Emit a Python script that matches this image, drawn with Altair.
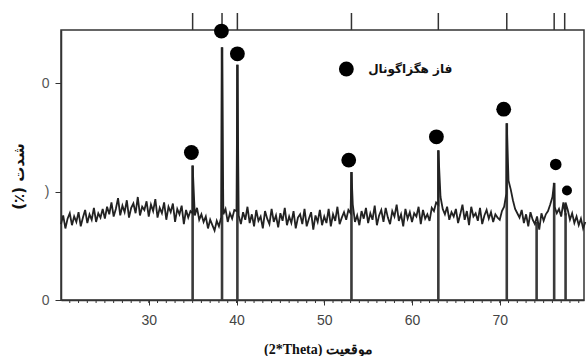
import altair as alt
import pandas as pd

# ---- data ----
# background trace, sampled every 0.25 deg from 20.00
trace_start = 20.0
trace_step = 0.25
trace_values = [
    0.70,0.78,0.66,0.75,0.80,0.69,0.77,0.72,0.81,0.68,0.76,0.83,0.71,0.79,0.74,0.85,0.72,0.80,0.76,0.84,
    0.75,0.86,0.79,0.90,0.77,0.84,0.94,0.78,0.87,0.81,0.92,0.76,0.85,0.89,0.80,0.95,0.78,0.86,0.83,0.91,
    0.77,0.88,0.82,0.93,0.76,0.85,0.80,0.90,0.74,0.86,0.81,0.89,0.72,0.84,0.79,0.87,0.70,0.83,0.76,0.82,
    0.80,0.78,0.85,0.74,0.79,0.72,0.77,0.66,0.74,0.69,0.64,0.73,0.68,0.76,0.79,0.84,0.72,0.80,0.75,0.83,
    0.82,0.78,0.70,0.81,0.74,0.86,0.71,0.79,0.68,0.83,0.73,0.77,0.66,0.82,0.75,0.70,0.84,0.72,0.78,0.67,
    0.80,0.73,0.85,0.69,0.77,0.71,0.82,0.66,0.76,0.79,0.70,0.84,0.68,0.75,0.81,0.65,0.78,0.72,0.83,0.69,
    0.77,0.71,0.84,0.68,0.79,0.73,0.86,0.70,0.76,0.81,0.74,0.83,0.80,0.88,0.72,0.78,0.69,0.82,0.75,0.85,
    0.71,0.80,0.74,0.87,0.69,0.78,0.83,0.72,0.85,0.76,0.70,0.82,0.77,0.88,0.73,0.79,0.68,0.84,0.75,0.81,
    0.72,0.80,0.77,0.86,0.70,0.83,0.75,0.79,0.73,0.85,0.82,0.90,0.88,0.95,0.84,0.79,0.86,0.74,0.81,0.77,
    0.84,0.71,0.79,0.88,0.74,0.82,0.69,0.86,0.77,0.80,0.73,0.85,0.70,0.78,0.83,0.75,0.81,0.72,0.79,0.76,
    0.74,0.82,0.86,0.98,1.10,1.02,0.92,0.84,0.80,0.76,0.83,0.71,0.79,0.68,0.81,0.74,0.70,0.77,0.65,0.80,
    0.73,0.79,0.82,0.88,0.95,0.86,0.80,0.84,0.77,0.90,0.78,0.83,0.74,0.80,0.71,0.77,0.69,0.75,0.66,0.72,
]

peak_pos = [35.0, 38.35, 40.1, 53.1, 63.0, 70.8, 76.2, 77.5]
peak_height = [1.24, 2.33, 2.17, 1.18, 1.38, 1.63, 1.08, 0.90]

stick_pos = [35.0, 38.35, 40.1, 53.1, 63.0, 70.8, 74.2, 76.2, 77.5]
stick_height = [1.24, 2.33, 2.17, 1.18, 1.38, 1.63, 0.72, 1.08, 0.80]

top_tick_pos = [35.0, 38.35, 40.1, 53.1, 63.0, 70.8, 76.2, 77.4]

marker_x = [34.86, 38.28, 40.1, 52.79, 62.78, 70.45, 76.38, 77.66]
marker_y = [1.36, 2.48, 2.27, 1.29, 1.505, 1.76, 1.25, 1.01]
marker_size = [220, 220, 220, 220, 220, 220, 135, 100]

legend_marker_x = [52.52]
legend_marker_y = [2.13]
legend_label = ["فاز هگزاگونال"]
legend_text_x = [55.0]

x_ticks = [30, 40, 50, 60, 70]
x_minor = list(range(21, 80))
y_ticks = [0, 1, 2]

x_title = "(2*Theta)  موقعیت"
y_title = "(٪) شدت"

# ---- tables ----
trace_x = [trace_start + trace_step * i for i in range(len(trace_values))]
pts = list(zip(trace_x, trace_values)) + list(zip(peak_pos, peak_height))
pts.sort(key=lambda p: p[0])
trace_df = pd.DataFrame(pts, columns=["theta", "intensity"])
trace_df["order"] = range(len(trace_df))

sticks_df = pd.DataFrame({"theta": stick_pos, "h": stick_height})
top_df = pd.DataFrame({"theta": top_tick_pos})
markers_df = pd.DataFrame({"theta": marker_x, "y": marker_y, "s": marker_size})
legend_m_df = pd.DataFrame({"theta": legend_marker_x, "y": legend_marker_y})
legend_t_df = pd.DataFrame({"theta": legend_text_x, "y": legend_marker_y, "label": legend_label})
minor_df = pd.DataFrame({"theta": x_minor})

xscale = alt.Scale(domain=[20, 79.6], nice=False, zero=False)
yscale = alt.Scale(domain=[0, 2.49], nice=False, zero=False)

xaxis = alt.Axis(
    values=x_ticks, title=x_title, grid=False, tickSize=5, labelPadding=8,
    labelFont="Liberation Sans", labelFontSize=14, labelColor="#444",
    tickColor="#333", domainColor="#333", domainWidth=1.5,
    titleFont="Liberation Serif", titleFontSize=14, titleFontWeight="bold",
    titleColor="#111", titleX=257, titleY=49, titleBaseline="middle", titleAlign="center",
)
yaxis = alt.Axis(
    values=y_ticks, title=y_title, grid=False, tickSize=6, labelPadding=6,
    labelExpr="datum.value == 1 ? ')' : '0'",
    labelFont="Liberation Sans", labelFontSize=14, labelColor="#555",
    tickColor="#333", domainColor="#333", domainWidth=1.5,
    titleFont="DejaVu Sans", titleFontSize=15, titleFontWeight="bold", titleColor="#111",
    titleAngle=-90, titleX=-43, titleY=146, titleBaseline="middle", titleAlign="center",
)

sticks = alt.Chart(sticks_df).mark_rule(color="#3a3a3a", strokeWidth=2.6).encode(
    x=alt.X("theta:Q", scale=xscale, axis=xaxis),
    y=alt.Y("h:Q", scale=yscale, axis=yaxis),
    y2=alt.datum(0),
)

trace = alt.Chart(trace_df).mark_line(color="#222", strokeWidth=1.8).encode(
    x=alt.X("theta:Q", scale=xscale),
    y=alt.Y("intensity:Q", scale=yscale),
    order="order:Q",
)

minor = alt.Chart(minor_df).mark_rule(color="#333", strokeWidth=1).encode(
    x=alt.X("theta:Q", scale=xscale),
    y=alt.value(270),
    y2=alt.value(273),
)

top_ticks = alt.Chart(top_df).mark_rule(color="#333", strokeWidth=1.5).encode(
    x=alt.X("theta:Q", scale=xscale),
    y=alt.value(0),
    y2=alt.value(-17),
)

markers = alt.Chart(markers_df).mark_point(filled=True, shape="circle", color="#000", opacity=1).encode(
    x=alt.X("theta:Q", scale=xscale),
    y=alt.Y("y:Q", scale=yscale),
    size=alt.Size("s:Q", scale=None, legend=None),
)

legend_marker = alt.Chart(legend_m_df).mark_point(filled=True, shape="circle", color="#000", opacity=1, size=220).encode(
    x=alt.X("theta:Q", scale=xscale),
    y=alt.Y("y:Q", scale=yscale),
)

legend_text = alt.Chart(legend_t_df).mark_text(
    align="left", baseline="middle", font="DejaVu Sans", fontSize=12, fontWeight="bold", color="#111"
).encode(
    x=alt.X("theta:Q", scale=xscale),
    y=alt.Y("y:Q", scale=yscale),
    text="label:N",
)

chart = alt.layer(
    sticks, trace, minor, top_ticks, markers, legend_marker, legend_text
).properties(
    width=523, height=270,
    autosize=alt.AutoSizeParams(type="none"),
    padding={"left": 61, "top": 30, "right": 3, "bottom": 56},
    background="white",
).configure_view(
    stroke="#333", strokeWidth=1.5
)

chart.save("out.html", embed_options={"renderer": "svg", "actions": False})
